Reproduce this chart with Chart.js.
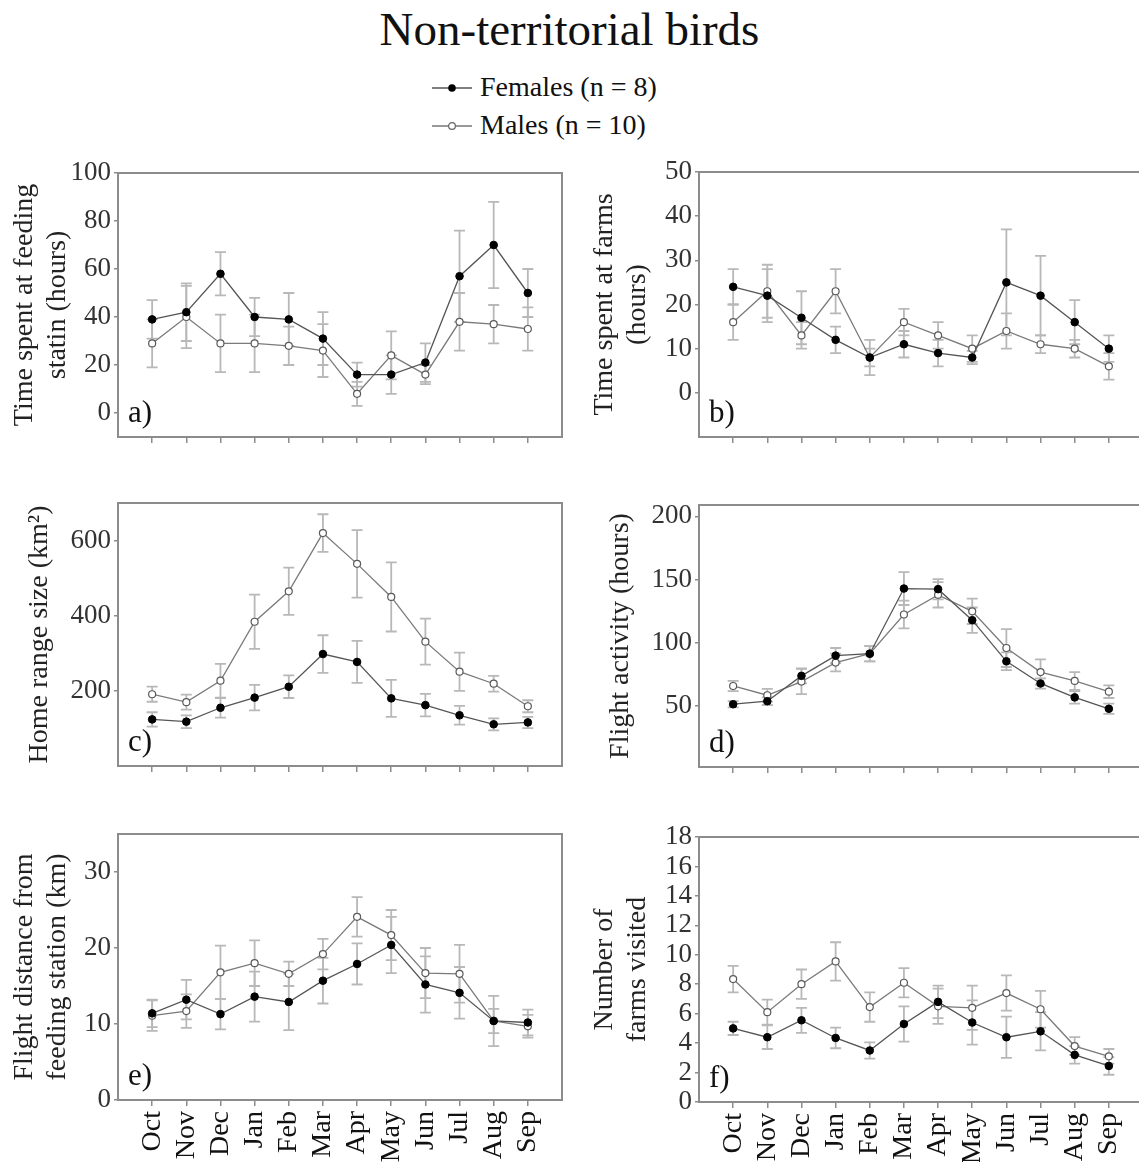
<!DOCTYPE html>
<html>
<head>
<meta charset="utf-8">
<script src="https://cdn.jsdelivr.net/npm/chart.js@4.4.0/dist/chart.umd.min.js"></script>
<style>
html,body{margin:0;padding:0;width:1139px;height:1162px;overflow:hidden;background:#fff;}
body{position:relative;font-family:"Liberation Serif","Times New Roman",serif;}
canvas{position:absolute;}
#title{position:absolute;left:0;width:1139px;top:6px;text-align:center;font-size:47px;line-height:47px;color:#111;white-space:nowrap;}
.legtxt{position:absolute;left:480px;font-size:28px;line-height:28px;color:#111;white-space:nowrap;}
.legicon{position:absolute;left:430px;}
</style>
</head>
<body>
<div id="title">Non-territorial birds</div>
<svg class="legicon" style="top:80px" width="46" height="16"><line x1="2" y1="8" x2="42" y2="8" stroke="#555" stroke-width="1.5"/><circle cx="22" cy="8" r="3.8" fill="#000"/></svg>
<div class="legtxt" style="top:73px">Females (n = 8)</div>
<svg class="legicon" style="top:118px" width="46" height="16"><line x1="2" y1="8" x2="42" y2="8" stroke="#777" stroke-width="1.5"/><circle cx="22" cy="8" r="3.4" fill="#fff" stroke="#666" stroke-width="1.2"/></svg>
<div class="legtxt" style="top:111px">Males (n = 10)</div>

<script>
// ---------- DATA ----------
const months = ['Oct','Nov','Dec','Jan','Feb','Mar','Apr','May','Jun','Jul','Aug','Sep'];

// a) Time spent at feeding station (hours)
const aFemale    = [39, 42, 58, 40, 39, 31, 16, 16, 21, 57, 70, 50];
const aFemaleErr = [8, 12, 9, 8, 11, 11, 5, 8, 8, 19, 18, 10];
const aMale      = [29, 40, 29, 29, 28, 26, 8, 24, 16, 38, 37, 35];
const aMaleErr   = [10, 13, 12, 12, 8, 11, 5, 10, 4, 12, 8, 9];
const aTicks     = [0, 20, 40, 60, 80, 100];

// b) Time spent at farms (hours)
const bFemale    = [24, 22, 17, 12, 8, 11, 9, 8, 25, 22, 16, 10];
const bFemaleErr = [4, 6, 6, 3, 2, 3, 3, 1.5, 12, 9, 5, 3];
const bMale      = [16, 23, 13, 23, 8, 16, 13, 10, 14, 11, 10, 6];
const bMaleErr   = [4, 6, 3, 5, 4, 3, 3, 3, 4, 2, 2, 3];
const bTicks     = [0, 10, 20, 30, 40, 50];

// c) Home range size (km2)
const cFemale    = [124, 118, 155, 182, 211, 298, 277, 180, 162, 135, 111, 116];
const cFemaleErr = [19, 17, 26, 34, 30, 50, 56, 49, 30, 25, 16, 15];
const cMale      = [191, 170, 227, 384, 465, 620, 538, 450, 331, 251, 219, 159];
const cMaleErr   = [20, 20, 45, 72, 63, 50, 90, 92, 61, 51, 21, 16];
const cTicks     = [200, 400, 600];

// d) Flight activity (hours)
const dFemale    = [51.6, 54, 74, 90, 91.5, 143, 142.5, 118, 85.5, 68, 57, 48];
const dFemaleErr = [2.5, 3, 6, 6, 6, 13, 8, 10, 7, 4, 5, 4];
const dMale      = [66, 58.7, 69.5, 84.5, 91.5, 122.5, 138, 125, 96, 77, 70, 61.5];
const dMaleErr   = [4, 5, 10, 7, 6, 11, 10, 10, 15, 10, 7, 5];
const dTicks     = [50, 100, 150, 200];

// e) Flight distance from feeding station (km)
const eFemale    = [11.4, 13.2, 11.3, 13.6, 12.9, 15.7, 17.9, 20.4, 15.2, 14.1, 10.4, 10.2];
const eFemaleErr = [1.8, 2.6, 2.0, 3.3, 3.7, 3.0, 2.7, 3.7, 3.7, 3.4, 1.6, 1.7];
const eMale      = [11.1, 11.7, 16.8, 18.0, 16.6, 19.2, 24.1, 21.7, 16.7, 16.6, 10.4, 9.7];
const eMaleErr   = [2.0, 2.2, 3.5, 3.0, 1.6, 2.0, 2.6, 3.3, 3.3, 3.8, 3.3, 1.5];
const eTicks     = [0, 10, 20, 30];

// f) Number of farms visited
const fFemale    = [5.0, 4.4, 5.55, 4.35, 3.5, 5.3, 6.8, 5.4, 4.4, 4.8, 3.2, 2.45];
const fFemaleErr = [0.45, 0.8, 0.85, 0.7, 0.55, 1.2, 1.1, 1.5, 1.4, 1.3, 0.6, 0.6];
const fMale      = [8.35, 6.1, 8.0, 9.55, 6.45, 8.1, 6.5, 6.4, 7.4, 6.3, 3.8, 3.1];
const fMaleErr   = [0.9, 0.85, 1.0, 1.3, 1.0, 1.0, 1.2, 1.5, 1.2, 1.25, 0.6, 0.5];
const fTicks     = [0, 2, 4, 6, 8, 10, 12, 14, 16, 18];

// ---------- PLUGINS ----------
const FONT = '"Liberation Serif","Times New Roman",serif';

const boxPlugin = {
  id: 'box',
  beforeDatasetsDraw(chart) {
    const {ctx, chartArea: a} = chart;
    ctx.save();
    ctx.strokeStyle = '#8c8c8c';
    ctx.lineWidth = 2;
    ctx.strokeRect(a.left, a.top, a.right - a.left, a.bottom - a.top);
    ctx.restore();
  }
};

const errPlugin = {
  id: 'errbars',
  beforeDatasetsDraw(chart) {
    const {ctx} = chart;
    const xs = chart.scales.x, ys = chart.scales.y;
    ctx.save();
    ctx.strokeStyle = '#b8b8b8';
    ctx.lineWidth = 1.8;
    chart.data.datasets.forEach(ds => {
      ds.data.forEach((p, i) => {
        const e = ds.err[i];
        const x = xs.getPixelForValue(p.x);
        const y1 = ys.getPixelForValue(p.y + e);
        const y2 = ys.getPixelForValue(p.y - e);
        ctx.beginPath();
        ctx.moveTo(x, y1); ctx.lineTo(x, y2);
        ctx.moveTo(x - 5.5, y1); ctx.lineTo(x + 5.5, y1);
        ctx.moveTo(x - 5.5, y2); ctx.lineTo(x + 5.5, y2);
        ctx.stroke();
      });
    });
    ctx.restore();
  }
};

const letterPlugin = {
  id: 'letter',
  afterDraw(chart, args, opts) {
    const {ctx, chartArea: a} = chart;
    ctx.save();
    ctx.font = '31px ' + FONT;
    ctx.fillStyle = '#111';
    ctx.textBaseline = 'alphabetic';
    ctx.fillText(opts.text, a.left + 10, a.bottom - 15);
    ctx.restore();
  }
};

// ---------- PANELS ----------
function panel(cfg) {
  const cv = document.createElement('canvas');
  cv.width = cfg.w; cv.height = cfg.h;
  cv.style.left = cfg.x + 'px'; cv.style.top = cfg.y + 'px';
  document.body.appendChild(cv);
  const pts = arr => arr.map((v, i) => ({x: i, y: v}));
  new Chart(cv, {
    type: 'line',
    data: {
      datasets: [
        {label: 'Males (n = 10)', data: pts(cfg.male), err: cfg.maleErr,
         borderColor: '#7a7a7a', borderWidth: 1.3, pointRadius: 3.5,
         pointBackgroundColor: '#fff', pointBorderColor: '#5a5a5a', pointBorderWidth: 1.2, order: 2},
        {label: 'Females (n = 8)', data: pts(cfg.female), err: cfg.femaleErr,
         borderColor: '#555', borderWidth: 1.3, pointRadius: 3.8,
         pointBackgroundColor: '#000', pointBorderColor: '#000', pointBorderWidth: 1, order: 1}
      ]
    },
    options: {
      responsive: false, animation: false, devicePixelRatio: 1,
      layout: {padding: {top: cfg.padTop, right: cfg.padRight, left: 0, bottom: 0}},
      plugins: {legend: {display: false}, tooltip: {enabled: false}, letter: {text: cfg.letter}},
      scales: {
        x: {
          type: 'linear', min: -1, max: 12,
          afterBuildTicks: s => { s.ticks = months.map((m, i) => ({value: i})); },
          afterFit: s => { s.height = cfg.xH; },
          ticks: {
            autoSkip: false, minRotation: 90, maxRotation: 90, padding: 5,
            callback: v => cfg.showX ? months[v] : '',
            font: {family: FONT, size: 28}, color: '#111'
          },
          grid: {drawOnChartArea: false, tickLength: 6, color: '#8c8c8c', lineWidth: 1.5},
          border: {display: false}
        },
        y: {
          min: cfg.min, max: cfg.max,
          afterBuildTicks: s => { s.ticks = cfg.ticks.map(v => ({value: v})); },
          afterFit: s => { s.width = cfg.yW; },
          ticks: {autoSkip: false, padding: 3, font: {family: FONT, size: 27}, color: '#333'},
          grid: {drawOnChartArea: false, tickLength: 4, color: '#8c8c8c', lineWidth: 1.5},
          border: {display: false},
          title: {display: true, text: cfg.title, color: '#222',
                  font: {family: FONT, size: 28, lineHeight: 1.18},
                  padding: {top: cfg.titlePad, bottom: 0}}
        }
      }
    },
    plugins: [boxPlugin, errPlugin, letterPlugin]
  });
}

// left column: canvas x 0..580, plot 118..562 ; right column: canvas x 580..1180, plot 699..1143
panel({x: 0, y: 150, w: 580, h: 310, yW: 118, padTop: 23, padRight: 18, xH: 23,
       min: -10, max: 100, ticks: aTicks, female: aFemale, femaleErr: aFemaleErr, male: aMale, maleErr: aMaleErr,
       title: ['Time spent at feeding', 'statin (hours)'], titlePad: 8.5, letter: 'a)', showX: false});
panel({x: 580, y: 150, w: 600, h: 310, yW: 119, padTop: 22, padRight: 37, xH: 23,
       min: -10, max: 50, ticks: bTicks, female: bFemale, femaleErr: bFemaleErr, male: bMale, maleErr: bMaleErr,
       title: ['Time spent at farms', '(hours)'], titlePad: 8.5, letter: 'b)', showX: false});
panel({x: 0, y: 480, w: 580, h: 310, yW: 118, padTop: 23, padRight: 18, xH: 24,
       min: 0, max: 700, ticks: cTicks, female: cFemale, femaleErr: cFemaleErr, male: cMale, maleErr: cMaleErr,
       title: 'Home range size (km²)', titlePad: 23.5, letter: 'c)', showX: false});
panel({x: 580, y: 480, w: 600, h: 310, yW: 119, padTop: 25, padRight: 37, xH: 23,
       min: 2, max: 209, ticks: dTicks, female: dFemale, femaleErr: dFemaleErr, male: dMale, maleErr: dMaleErr,
       title: 'Flight activity (hours)', titlePad: 24.5, letter: 'd)', showX: false});
panel({x: 0, y: 810, w: 580, h: 352, yW: 118, padTop: 24, padRight: 18, xH: 62,
       min: 0, max: 35, ticks: eTicks, female: eFemale, femaleErr: eFemaleErr, male: eMale, maleErr: eMaleErr,
       title: ['Flight distance from', 'feeding station (km)'], titlePad: 8.5, letter: 'e)', showX: true});
panel({x: 580, y: 810, w: 600, h: 352, yW: 119, padTop: 27, padRight: 37, xH: 60,
       min: 0, max: 18, ticks: fTicks, female: fFemale, femaleErr: fFemaleErr, male: fMale, maleErr: fMaleErr,
       title: ['Number of', 'farms visited'], titlePad: 8.5, letter: 'f)', showX: true});
</script>
</body>
</html>
